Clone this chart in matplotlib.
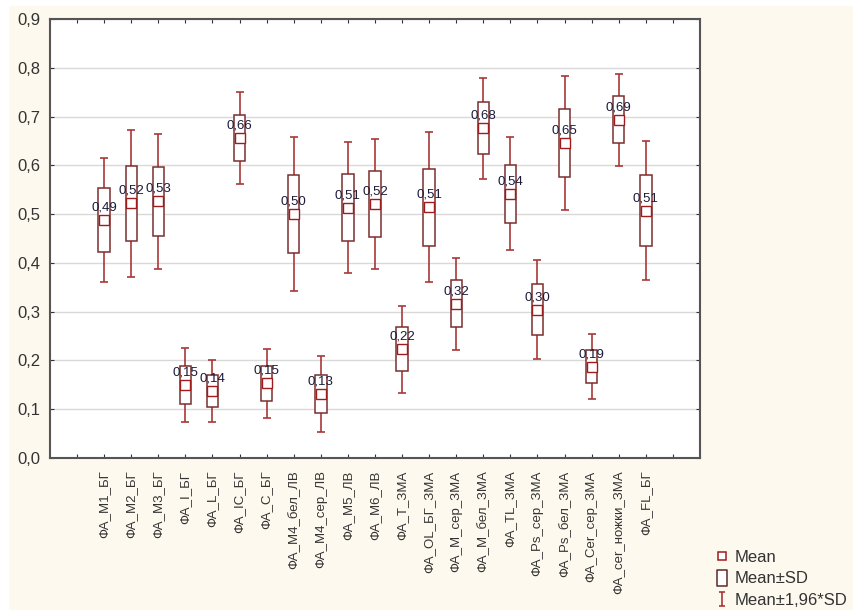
import matplotlib
matplotlib.use('Agg')
from matplotlib import pyplot as plt
from matplotlib.lines import Line2D
from matplotlib.patches import Rectangle
from matplotlib.path import Path
import numpy as np

# categories and read-off statistics (mean, standard deviation)
categories = ['ФА_M1_БГ', 'ФА_M2_БГ', 'ФА_M3_БГ', 'ФА_I_БГ', 'ФА_L_БГ', 'ФА_IC_БГ', 'ФА_C_БГ',
              'ФА_M4_бел_ЛВ', 'ФА_M4_сер_ЛВ', 'ФА_M5_ЛВ', 'ФА_M6_ЛВ', 'ФА_T_ЗМА', 'ФА_OL_БГ_ЗМА',
              'ФА_M_сер_ЗМА', 'ФА_M_бел_ЗМА', 'ФА_TL_ЗМА', 'ФА_Ps_сер_ЗМА', 'ФА_Ps_бел_ЗМА',
              'ФА_Cer_сер_ЗМА', 'ФА_сer_ножки_ЗМА', 'ФА_FL_БГ']
means = [0.488, 0.522, 0.526, 0.149, 0.137, 0.656, 0.153, 0.500, 0.131, 0.513, 0.521,
         0.223, 0.514, 0.316, 0.676, 0.542, 0.304, 0.646, 0.187, 0.693, 0.507]
sds = [0.065, 0.0765, 0.0708, 0.0387, 0.0323, 0.0477, 0.0358, 0.0804, 0.0397, 0.0685, 0.0682,
       0.0453, 0.0785, 0.0483, 0.0529, 0.0594, 0.052, 0.0699, 0.034, 0.0482, 0.0725]
yticks = [0.0, 0.1, 0.2, 0.3, 0.4, 0.5, 0.6, 0.7, 0.8, 0.9]

box_col = '#7b2d2d'
whisk_col = '#a83838'
mean_col = '#a01c1c'
txt_col = '#333333'

plt.rcParams['font.family'] = ['Liberation Sans', 'DejaVu Sans']

fig = plt.figure(figsize=(8.54, 6.10), dpi=100)
fig.patches.append(Rectangle((9 / 854, 0), 1, 1 - 6 / 610, transform=fig.transFigure,
                             facecolor='#fef9ee', edgecolor='none', zorder=-10))
ax = fig.add_axes([50 / 854, 152 / 610, 650 / 854, 439 / 610])
ax.set_facecolor('white')

x = np.arange(1, len(categories) + 1)
m = np.array(means)
s = np.array(sds)
lo, hi = m - 1.96 * s, m + 1.96 * s

# whiskers only outside the box
ax.vlines(x, m + s, hi, color=whisk_col, linewidth=1.2, zorder=2)
ax.vlines(x, lo, m - s, color=whisk_col, linewidth=1.2, zorder=2)
ax.plot(x, hi, ls='none', marker='_', markersize=6, markeredgewidth=1.2, color=whisk_col, zorder=2)
ax.plot(x, lo, ls='none', marker='_', markersize=6, markeredgewidth=1.2, color=whisk_col, zorder=2)
ax.bar(x, 2 * s, bottom=m - s, width=0.42, facecolor='white', edgecolor=box_col,
       linewidth=1.1, zorder=3)
ax.plot(x, m, ls='none', marker='s', markersize=6.5, markerfacecolor='white',
        markeredgecolor=mean_col, markeredgewidth=1.0, zorder=4)
for xi, mi in zip(x, m):
    ax.annotate(f'{mi:.2f}'.replace('.', ','), (xi, mi), xytext=(0, 9),
                textcoords='offset points', ha='center', va='center',
                fontsize=9.5, color='#1a1a3a', zorder=5)

ax.set_xlim(-1, 23)
ax.set_ylim(0, 0.9)
ax.set_xticks(np.arange(0, 23))
ax.set_xticklabels([''] + categories + [''], rotation=90, fontsize=9.5, color=txt_col)
ax.set_yticks(yticks)
ax.set_yticklabels([f'{v:.1f}'.replace('.', ',') for v in yticks], fontsize=12, color=txt_col)
ax.tick_params(axis='x', direction='in', length=3, top=True, pad=9, color='#333333')
ax.tick_params(axis='y', direction='in', length=3, right=True, pad=7, color='#333333')
ax.yaxis.grid(True, color='#d9d9d9', linewidth=1)
ax.set_axisbelow(True)
for sp in ax.spines.values():
    sp.set_color('#555555')
    sp.set_linewidth(1.5)

rect_marker = Path([(-0.55, -1), (0.55, -1), (0.55, 1), (-0.55, 1), (-0.55, -1)],
                   [Path.MOVETO, Path.LINETO, Path.LINETO, Path.LINETO, Path.CLOSEPOLY])
ibeam = Path([(-0.5, 1), (0.5, 1), (0, 1), (0, -1), (-0.5, -1), (0.5, -1)],
             [Path.MOVETO, Path.LINETO, Path.MOVETO, Path.LINETO, Path.MOVETO, Path.LINETO])
handles = [
    Line2D([], [], ls='none', marker='s', markersize=6, markerfacecolor='white',
           markeredgecolor=mean_col, markeredgewidth=1.1),
    Line2D([], [], ls='none', marker=rect_marker, markersize=12, markerfacecolor='white',
           markeredgecolor='#5a2a2a', markeredgewidth=1.1),
    Line2D([], [], ls='none', marker=ibeam, markersize=10, markerfacecolor='none',
           markeredgecolor=whisk_col, markeredgewidth=1.2),
]
leg = fig.legend(handles, ['Mean', 'Mean±SD', 'Mean±1,96*SD'], loc='upper left',
                 bbox_to_anchor=(715 / 854, (610 - 550) / 610), frameon=False, fontsize=12,
                 handlelength=0.9, handletextpad=0.3, labelspacing=0.38, borderpad=0,
                 borderaxespad=0)
for t in leg.get_texts():
    t.set_color(txt_col)

plt.savefig('out.png', dpi=100)
